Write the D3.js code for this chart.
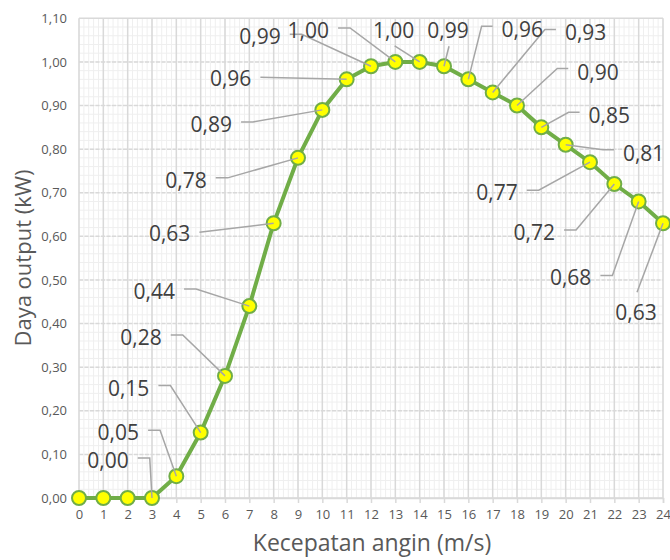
<!DOCTYPE html>
<html>
<head>
<meta charset="utf-8">
<script src="https://cdn.jsdelivr.net/npm/d3@7"></script>
<style>
body{margin:0;background:#fff;}
text{font-family:"Open Sans",sans-serif;}
</style>
</head>
<body>
<div id="chart"></div>
<script>
// data
var kecepatan = [0,1,2,3,4,5,6,7,8,9,10,11,12,13,14,15,16,17,18,19,20,21,22,23,24];
var daya = [0,0,0,0,0.05,0.15,0.28,0.44,0.63,0.78,0.89,0.96,0.99,1.00,1.00,0.99,0.96,0.93,0.90,0.85,0.81,0.77,0.72,0.68,0.63];
var yTicks = [0,0.1,0.2,0.3,0.4,0.5,0.6,0.7,0.8,0.9,1.0,1.1];
var xTicks = kecepatan;

// label placement (offset of text centre from the point, leader side)
var labelPos = [null,null,null,
 [-44,-38,"r"],[-58,-44,"r"],[-72,-45,"r"],[-84,-39,"r"],[-95,-15,"r"],
 [-104,10,"s"],[-112,22,"r"],[-111,14,"r"],[-116,-1,"s"],[-111,-30,"r"],
 [-87,-32,"r"],[-26,-32,"b"],[4,-36,"b"],[54,-50,"l"],[93,-60,"l"],
 [81,-34,"l"],[68,-12,"l"],[78,8,"l"],[-93,30,"r"],[-80,48,"r"],
 [-68,76,"r"],[-27,89,"t"]];

var fmt = function(v){ return d3.format(".2f")(v).replace(".", ","); };

var svg = d3.select("#chart").append("svg")
  .attr("width",670)
  .attr("height",560);

var x = d3.scaleLinear().domain([0,24]).range([79,663]);
var y = d3.scaleLinear().domain([0,1.1]).range([498,18.3]);

// minor grid
var g = svg.append("g");
g.selectAll(".mx").data(d3.range(0,24.01,0.2)).enter().append("line")
  .attr("x1",d=>x(d)).attr("x2",d=>x(d)).attr("y1",y(0)).attr("y2",y(1.1))
  .style("stroke","#efefef").style("stroke-width",1);
g.selectAll(".my").data(d3.range(0,1.101,0.02)).enter().append("line")
  .attr("x1",x(0)).attr("x2",x(24)).attr("y1",d=>y(d)).attr("y2",d=>y(d))
  .style("stroke","#efefef").style("stroke-width",1);

// major grid
g.selectAll(".vx").data(xTicks).enter().append("line")
  .attr("x1",d=>x(d)).attr("x2",d=>x(d)).attr("y1",y(0)).attr("y2",y(1.1))
  .style("stroke","#d9d9d9").style("stroke-width",1.5);
g.selectAll(".hy").data(yTicks).enter().append("line")
  .attr("x1",x(0)).attr("x2",x(24)).attr("y1",d=>y(d)).attr("y2",d=>y(d))
  .style("stroke","#d9d9d9").style("stroke-width",1.5)
  .style("stroke-dasharray",d=>(d==0||d==1.1)?null:"4,1.5");

// x axis
var xAxis = svg.append("g")
  .attr("transform","translate(0,"+y(0)+")")
  .call(d3.axisBottom(x).tickValues(xTicks).tickSize(5).tickPadding(7).tickFormat(d3.format("d")));
xAxis.select(".domain").style("stroke","#d9d9d9").style("stroke-width",1.5);
xAxis.selectAll(".tick line").style("stroke","#d9d9d9").style("stroke-width",1.5);
xAxis.selectAll("text").style("font-size","13px").style("fill","#595959").style("font-family","Open Sans");

// y axis
var yAxis = svg.append("g")
  .attr("transform","translate("+x(0)+",0)")
  .call(d3.axisLeft(y).tickValues(yTicks).tickSize(0).tickPadding(12).tickFormat(fmt));
yAxis.select(".domain").remove();
yAxis.selectAll("text").style("font-size","13px").style("fill","#595959").style("font-family","Open Sans");

// axis titles
svg.append("text")
  .attr("x",372).attr("y",551)
  .attr("text-anchor","middle")
  .style("font-size","23px").style("fill","#595959")
  .text("Kecepatan angin (m/s)");
svg.append("text")
  .attr("transform","translate(31,258) rotate(-90)")
  .attr("text-anchor","middle")
  .style("font-size","22px").style("fill","#595959")
  .text("Daya output (kW)");

// line
var line = d3.line().x((d,i)=>x(kecepatan[i])).y(d=>y(d));
svg.append("path")
  .datum(daya)
  .attr("d",line)
  .style("fill","none")
  .style("stroke","#70ad47")
  .style("stroke-width",4);

// markers
svg.selectAll(".pt").data(daya).enter().append("circle")
  .attr("cx",(d,i)=>x(kecepatan[i]))
  .attr("cy",d=>y(d))
  .attr("r",7)
  .style("fill","#ffff00")
  .style("stroke","#70ad47")
  .style("stroke-width",2);

// data labels with leader lines
var lab = svg.append("g");
daya.forEach(function(v,i){
  var p = labelPos[i];
  if(!p) return;
  var px = x(kecepatan[i]), py = y(v);
  var cx = px + p[0], cy = py + p[1];
  var t = lab.append("text")
    .attr("x",cx).attr("y",cy)
    .attr("text-anchor","middle")
    .attr("dominant-baseline","central")
    .style("font-size","21px").style("fill","#404040")
    .text(fmt(v));
  var w = t.node().getComputedTextLength();
  var pts;
  if(p[2]=="r"){
    var sx = cx + w/2 + 9;
    pts = [[sx,cy-2],[sx+12,cy-2],[px,py]];
  } else if(p[2]=="s"){
    pts = [[cx + w/2 + 9,cy-1],[px,py]];
  } else if(p[2]=="l"){
    var lx = cx - w/2 - 9;
    pts = [[lx,cy-3],[lx-11,cy-3],[px,py]];
  } else if(p[2]=="b"){
    pts = [[cx+1,cy+16],[px,py]];
  } else {
    pts = [[cx+1,cy-20],[px,py]];
  }
  lab.insert("path","text")
    .attr("d",d3.line()(pts))
    .style("fill","none")
    .style("stroke","#a6a6a6")
    .style("stroke-width",1.5);
});
</script>
</body>
</html>
